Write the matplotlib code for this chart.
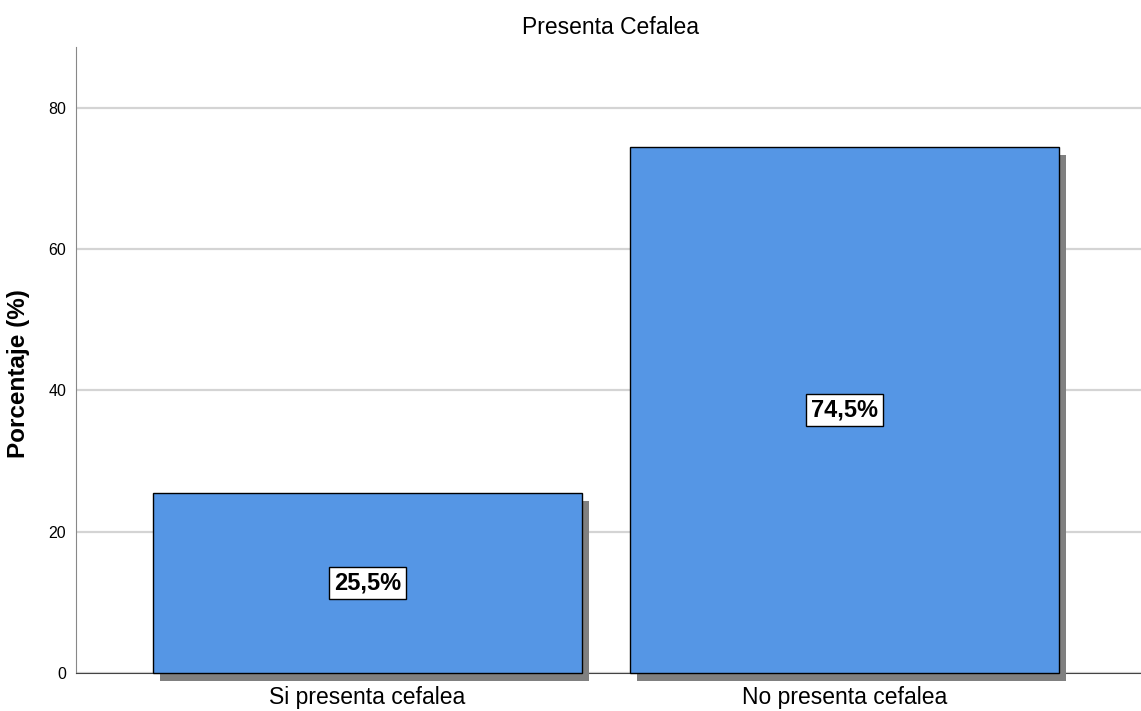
import matplotlib.pyplot as plt
import matplotlib.patheffects as pe

plt.rcParams['font.family'] = ['Liberation Sans', 'DejaVu Sans']

categorias = ["Si presenta cefalea", "No presenta cefalea"]
porcentajes = [25.5, 74.5]
etiquetas = ["25,5%", "74,5%"]
ticks_y = [0, 20, 40, 60, 80]

fig = plt.figure(figsize=(11.41, 7.11), dpi=100)
ax = fig.add_axes([0.0666, 0.0534, 0.9334, 0.8806])

ax.grid(axis='y', color='#d4d4d4', linewidth=1.6, zorder=0)
ax.set_axisbelow(True)

x = range(len(categorias))
bars = ax.bar(x, porcentajes, width=0.9, color='#5596e5', edgecolor='black',
              linewidth=1.0, zorder=3, clip_on=False)
for b in bars:
    b.set_path_effects([pe.SimplePatchShadow(offset=(5, -5.8), shadow_rgbFace='#808080', alpha=1.0),
                        pe.Normal()])

# etiquetas de porcentaje en el centro de cada barra
for xi, v, lab in zip(x, porcentajes, etiquetas):
    ax.text(xi, v / 2, lab, ha='center', va='center', fontsize=17, fontweight='bold', zorder=5,
            bbox=dict(boxstyle='square,pad=0.2', facecolor='white', edgecolor='black', linewidth=1.0))

ax.set_xlim(-0.611, 1.622)
ax.set_ylim(0, 88.6)
ax.set_yticks(ticks_y)
ax.set_xticks(list(x))
ax.set_xticklabels(categorias, fontsize=16.5)
ax.tick_params(axis='y', labelsize=11.5, length=0, pad=7)
ax.tick_params(axis='x', length=0, pad=9)

ax.spines['top'].set_visible(False)
ax.spines['right'].set_visible(False)
ax.spines['left'].set_color('#888888')
ax.spines['bottom'].set_color('#444444')

ax.set_ylabel("Porcentaje (%)", fontsize=17.5, fontweight='bold')
ax.yaxis.set_label_coords(-0.043, 0.479)
fig.text(0.5353, 0.962, "Presenta Cefalea", ha='center', va='center', fontsize=16.5)

fig.savefig("out.png", dpi=100)
